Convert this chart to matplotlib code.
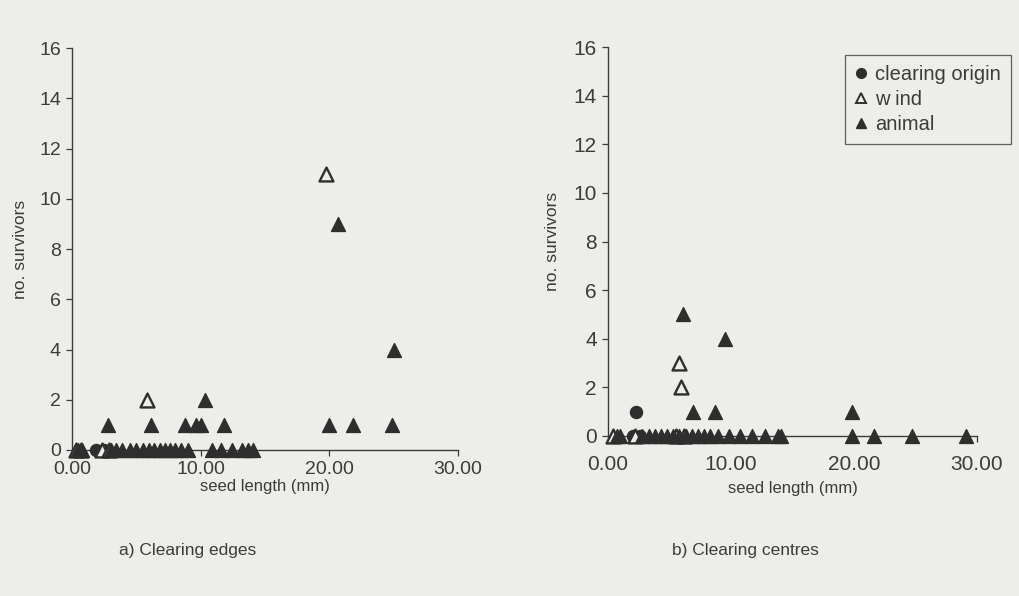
import matplotlib
matplotlib.use("Agg")
import matplotlib.pyplot as plt
from matplotlib.lines import Line2D

plt.rcParams['font.family'] = ['Liberation Sans', 'DejaVu Sans']

# ---- data: a) Clearing edges ----
edges_origin_x = [1.9, 2.5]
edges_origin_y = [0, 0]
edges_wind_x = [0.3, 0.7, 2.3, 2.9, 5.8, 19.7]
edges_wind_y = [0, 0, 0, 0, 2, 11]
edges_animal_x = [0.5, 0.8, 3.0, 3.4, 3.9, 4.5, 5.0, 5.5, 6.0, 6.4, 6.8, 7.2, 7.6,
                  8.0, 8.5, 9.0, 10.9, 11.6, 12.4, 13.2, 13.7, 14.1,
                  2.8, 6.1, 8.8, 9.6, 10.0, 11.8, 20.0, 21.8, 24.9,
                  10.3, 20.7, 25.0]
edges_animal_y = [0] * 22 + [1] * 9 + [2, 9, 4]

# ---- data: b) Clearing centres ----
centres_origin_x = [2.3, 2.0, 2.6]
centres_origin_y = [1, 0, 0]
centres_wind_x = [5.9, 5.8, 0.4, 2.2, 5.5, 6.2]
centres_wind_y = [2, 3, 0, 0, 0, 0]
centres_animal_x = [0.7, 1.0, 2.8, 3.3, 3.8, 4.3, 4.8, 5.3, 5.8, 6.3, 6.8, 7.3, 7.8,
                    8.3, 8.9, 9.8, 10.7, 11.7, 12.8, 13.8, 14.1, 19.8, 21.6, 24.7, 29.1,
                    6.9, 8.7, 19.8, 9.5, 6.1]
centres_animal_y = [0] * 25 + [1, 1, 1, 4, 5]

x_ticks = [0, 10, 20, 30]
x_ticklabels = ["0.00", "10.00", "20.00", "30.00"]
y_ticks = [0, 2, 4, 6, 8, 10, 12, 14, 16]

legend_labels = ["clearing origin", "w ind", "animal"]
captions = ["a) Clearing edges", "b) Clearing centres"]

BG = "#ededea"
FG = "#3c3c3c"
MK = "#2e2e2e"

fig = plt.figure(figsize=(10.19, 5.96), dpi=100, facecolor=BG)
ax1 = fig.add_axes([0.0707, 0.245, 0.3788, 0.674])
ax2 = fig.add_axes([0.5967, 0.2685, 0.3621, 0.6525])


def style(ax, tsize, xpad, xlabelpad, ylabelpad):
    ax.set_facecolor(BG)
    ax.set_xlim(0, 30)
    ax.set_ylim(0, 16)
    for s in ["top", "right"]:
        ax.spines[s].set_visible(False)
    for s in ["left", "bottom"]:
        ax.spines[s].set_color(FG)
        ax.spines[s].set_linewidth(1.0)
    ax.set_xticks(x_ticks)
    ax.set_xticklabels(x_ticklabels)
    ax.set_yticks(y_ticks)
    ax.tick_params(axis='both', direction='out', length=4, width=0.9,
                   color=FG, labelcolor=FG, labelsize=tsize)
    ax.tick_params(axis='x', pad=xpad)
    ax.tick_params(axis='y', pad=4)
    ax.set_xlabel("seed length (mm)", color=FG, fontsize=12, labelpad=xlabelpad)
    ax.set_ylabel("no. survivors", color=FG, fontsize=12.5, labelpad=ylabelpad)


def draw(ax, ox, oy, wx, wy, axx, ay):
    ax.scatter(ox, oy, marker='o', s=75, color=MK, clip_on=False, zorder=3)
    ax.scatter(wx, wy, marker='^', s=100, facecolor=BG, edgecolor=MK,
               linewidth=1.7, clip_on=False, zorder=3)
    ax.scatter(axx, ay, marker='^', s=100, color=MK, clip_on=False, zorder=4)


style(ax1, 14, 4, 1, 8)
style(ax2, 15, 10, 5, 10)
draw(ax1, edges_origin_x, edges_origin_y, edges_wind_x, edges_wind_y,
     edges_animal_x, edges_animal_y)
draw(ax2, centres_origin_x, centres_origin_y, centres_wind_x, centres_wind_y,
     centres_animal_x, centres_animal_y)

handles = [
    Line2D([], [], marker='o', linestyle='none', markersize=7, color=MK),
    Line2D([], [], marker='^', linestyle='none', markersize=7.5,
           markerfacecolor=BG, markeredgecolor=MK, markeredgewidth=1.4),
    Line2D([], [], marker='^', linestyle='none', markersize=7.5, color=MK),
]
leg = fig.legend(handles, legend_labels, loc='upper left',
                 bbox_to_anchor=(845 / 1019, 1 - 55 / 596),
                 frameon=True, fancybox=False, fontsize=14.5,
                 handlelength=0.6, handletextpad=0.4, labelspacing=0.3,
                 borderpad=0.5, borderaxespad=0)
leg.get_frame().set_edgecolor(FG)
leg.get_frame().set_facecolor(BG)
leg.get_frame().set_linewidth(0.9)
for t in leg.get_texts():
    t.set_color(FG)

fig.text(188 / 1019, 1 - 551 / 596, captions[0], ha='center', va='center',
         fontsize=12.5, color=FG)
fig.text(745 / 1019, 1 - 551 / 596, captions[1], ha='center', va='center',
         fontsize=12.5, color=FG)

fig.savefig("out.png", dpi=100, facecolor=BG)
